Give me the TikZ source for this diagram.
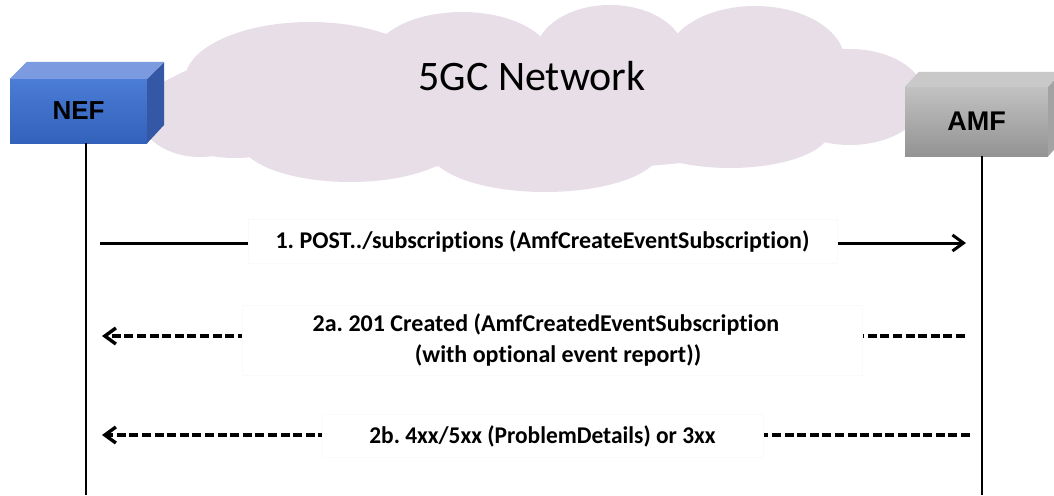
\documentclass[tikz,border=0pt]{standalone}
\usepackage{fontspec}
\setmainfont{Carlito}[Ligatures={NoCommon}]
\newfontfamily\arialfont{Liberation Sans}
\usetikzlibrary{arrows.meta}
\frenchspacing
\definecolor{cloudc}{HTML}{E7DEE7}
\definecolor{neftop}{HTML}{7B9AE0}
\definecolor{neffa}{HTML}{4B7CD6}
\definecolor{neffb}{HTML}{3262BA}
\definecolor{nefside}{HTML}{3457A6}
\definecolor{amftop}{HTML}{C9C9C9}
\definecolor{amffa}{HTML}{C2C2C2}
\definecolor{amffb}{HTML}{939393}
\definecolor{amfside}{HTML}{A3A3A3}
\tikzset{
  cloudpart/.style={fill=cloudc, draw=none},
  nefface/.style={draw=none, top color=neffa, bottom color=neffb, inner sep=0pt,
    font=\arialfont\bfseries\fontsize{26}{30}\selectfont},
  amfface/.style={draw=none, top color=amffa, bottom color=amffb, inner sep=0pt,
    font=\arialfont\bfseries\fontsize{27}{30}\selectfont},
  life/.style={line width=2.9pt, black},
  msgsolid/.style={line width=3pt, -{Straight Barb[length=11pt,width=16pt]}},
  msgdash/.style={line width=3.4pt, dash pattern=on 9pt off 3.6pt, -{Straight Barb[length=11pt,width=16pt]}},
  lbl/.style={fill=white, draw=gray!4, inner sep=0pt, align=center,
    font=\bfseries\fontsize{24}{31}\selectfont}
}
\begin{document}
\begin{tikzpicture}[x=1pt,y=-1pt]
\useasboundingbox (0,0) rectangle (1054,495);
% cloud
\fill[cloudpart] (200,115) ellipse [x radius=60, y radius=42];
\fill[cloudpart] (235,110) ellipse [x radius=85, y radius=48];
\fill[cloudpart] (310,80) ellipse [x radius=125, y radius=58];
\fill[cloudpart] (462,60) ellipse [x radius=90, y radius=48];
\fill[cloudpart] (610,55) ellipse [x radius=75, y radius=50];
\fill[cloudpart] (755,62) ellipse [x radius=90, y radius=56];
\fill[cloudpart] (850,97) ellipse [x radius=75, y radius=48];
\fill[cloudpart] (540,110) ellipse [x radius=300, y radius=60];
\fill[cloudpart] (350,140) ellipse [x radius=110, y radius=42];
\fill[cloudpart] (545,150) ellipse [x radius=115, y radius=42];
\fill[cloudpart] (730,130) ellipse [x radius=100, y radius=38];
\node[font=\fontsize{42}{44}\selectfont] (net) at (532,76) {5GC Network};
% NEF box
\node[nefface, minimum width=137pt, minimum height=64pt] (nef) at (78.5,111) {NEF};
\fill[neftop] (nef.north west) -- ++(17,-17) -- ++(137,0) -- (nef.north east) -- cycle;
\fill[nefside] (nef.north east) -- ++(17,-17) -- ++(0,63) -- (nef.south east) -- cycle;
% AMF box
\node[amfface, minimum width=143pt, minimum height=69pt] (amf) at (976.5,121.5) {AMF};
\fill[amftop] (amf.north west) -- ++(14,-15) -- ++(143,0) -- (amf.north east) -- cycle;
\fill[amfside] (amf.north east) -- ++(14,-15) -- ++(0,69) -- (amf.south east) -- cycle;
% lifelines
\coordinate (nefTop) at (86,143);
\coordinate (nefBot) at (86,495);
\coordinate (amfTop) at (982,156);
\coordinate (amfBot) at (982,495);
\draw[life] (nefTop) -- (nefBot);
\draw[life] (amfTop) -- (amfBot);
% message 1
\coordinate (m1s) at (100,243);
\coordinate (m1e) at (966,243);
\draw[msgsolid] (m1s) -- (m1e);
\node[lbl, minimum width=589pt, minimum height=44pt] (l1) at (542.5,241) {1. POST../subscriptions (AmfCreateEventSubscription)};
% message 2a
\coordinate (m2s) at (965,336);
\coordinate (m2e) at (102,336);
\draw[msgdash] (m2s) -- (m2e);
\node[lbl, minimum width=620pt, minimum height=70pt] (l2) at (552,340) {2a. 201 Created (AmfCreatedEventSubscription\hbox to 12pt{}\\\hbox to 12pt{}(with optional event report))};
% message 2b
\coordinate (m3s) at (970,435);
\coordinate (m3e) at (102,435);
\draw[msgdash] (m3s) -- (m3e);
\node[lbl, minimum width=441pt, minimum height=43pt] (l3) at (542.5,436) {\scalebox{0.975}[1]{2b. 4xx/5xx (ProblemDetails) or 3xx}};
\end{tikzpicture}
\end{document}
